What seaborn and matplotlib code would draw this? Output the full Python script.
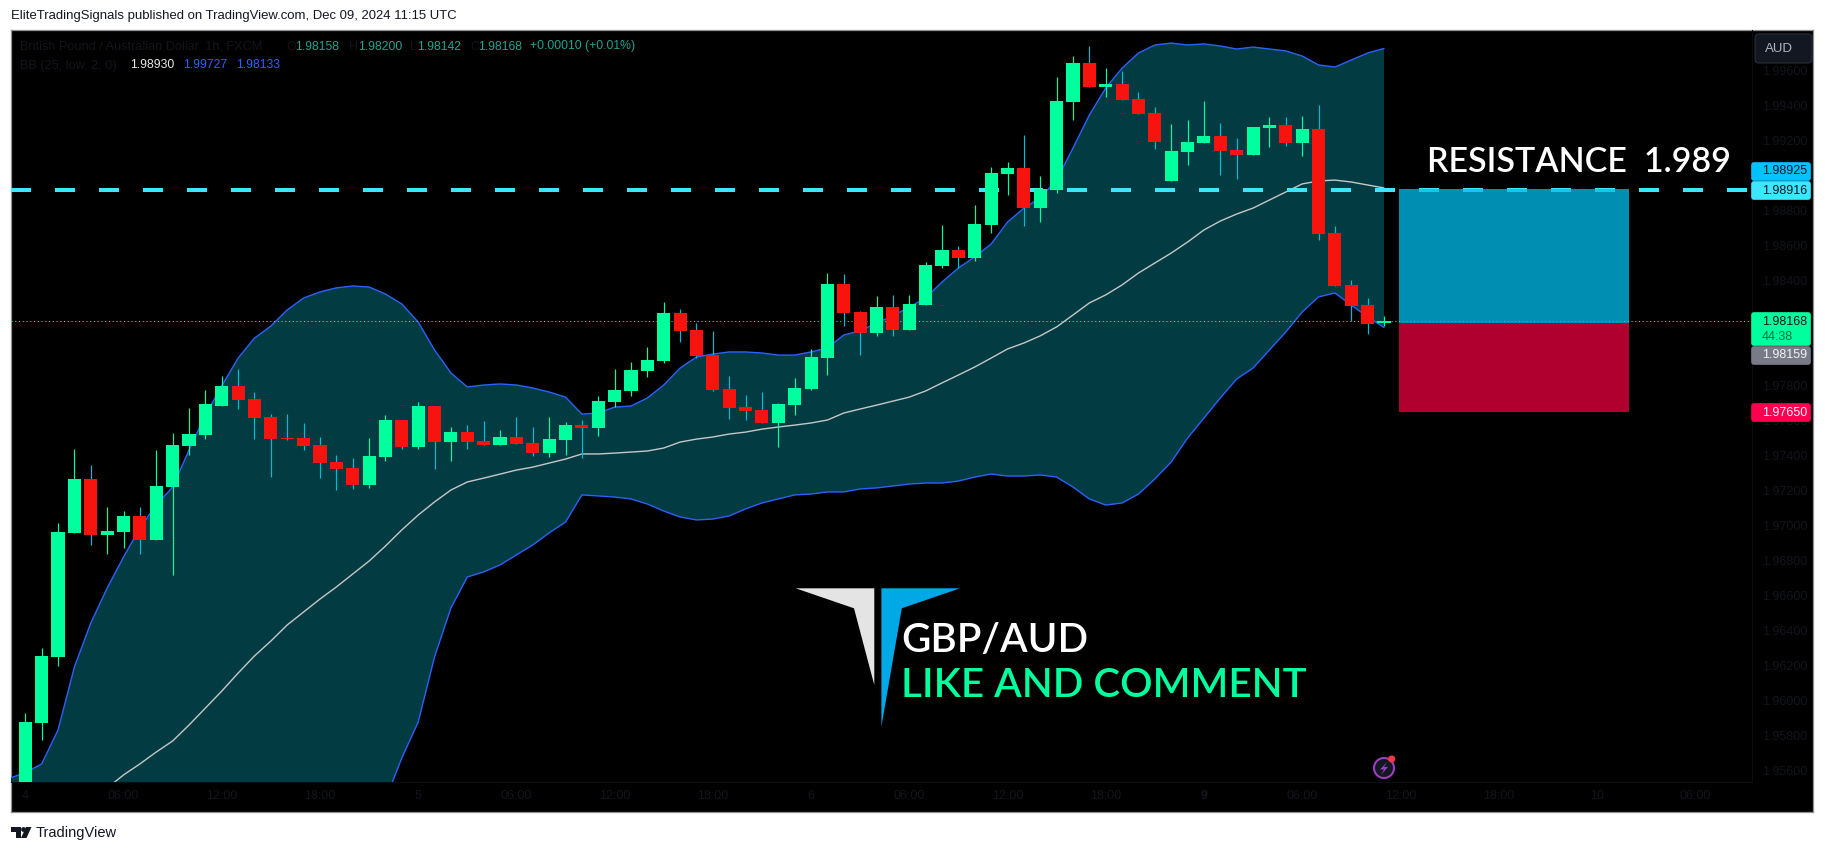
import numpy as np
import pandas as pd
import matplotlib
matplotlib.use('Agg')
import matplotlib.pyplot as plt
from matplotlib.patches import Polygon, Circle, FancyBboxPatch
import seaborn as sns

# candles, Dec 4 00:00 -> Dec 9 11:00, hourly
opens = [1.9548, 1.95874, 1.96252, 1.96960, 1.97267, 1.96949, 1.96964, 1.97056, 1.96920, 1.97221,
         1.97455, 1.97518, 1.97684, 1.97799, 1.97724, 1.97621, 1.97501, 1.97501, 1.97461, 1.97364,
         1.97330, 1.97233, 1.97392, 1.97604, 1.97450, 1.97684, 1.97478, 1.97535, 1.97484, 1.97461,
         1.97507, 1.97473, 1.97415, 1.97490, 1.97575, 1.97558, 1.97707, 1.97770, 1.97884, 1.97941,
         1.98216, 1.98119, 1.97975, 1.97781, 1.97678, 1.97661, 1.97587, 1.97689, 1.97781, 1.97958,
         1.98381, 1.98221, 1.98102, 1.98250, 1.98119, 1.98261, 1.98484, 1.98575, 1.98530, 1.98718,
         1.99011, 1.99045, 1.98815, 1.98919, 1.99421, 1.99644, 1.99507, 1.99524, 1.99438, 1.99358,
         1.98970, 1.99136, 1.99187, 1.99227, 1.99147, 1.99118, 1.99273, 1.99290, 1.99187, 1.99267,
         1.98673, 1.98376, 1.98261, 1.98158]
highs = [1.95930, 1.96302, 1.97016, 1.97438, 1.97347, 1.97107, 1.97084, 1.97107, 1.97432, 1.97531,
         1.97672, 1.97776, 1.97856, 1.97896, 1.97764, 1.97638, 1.97638, 1.97587, 1.97507, 1.97404,
         1.97387, 1.97501, 1.97632, 1.97604, 1.97707, 1.97684, 1.97564, 1.97575, 1.97598, 1.97547,
         1.97621, 1.97564, 1.97621, 1.97592, 1.97604, 1.97741, 1.97896, 1.97935, 1.98022, 1.98279,
         1.98239, 1.98159, 1.98113, 1.97856, 1.97747, 1.97764, 1.97701, 1.97844, 1.98010, 1.98444,
         1.98438, 1.98227, 1.98313, 1.98319, 1.98319, 1.98507, 1.98718, 1.98598, 1.98832, 1.99050,
         1.99079, 1.99233, 1.98999, 1.99564, 1.99684, 1.99741, 1.99615, 1.99598, 1.99478, 1.99393,
         1.99296, 1.99318, 1.99427, 1.99301, 1.99216, 1.99278, 1.99336, 1.99336, 1.99341, 1.99404,
         1.98713, 1.98404, 1.98301, 1.98200]
lows = [1.9548, 1.95775, 1.96201, 1.96960, 1.96890, 1.96839, 1.96873, 1.96839, 1.96920, 1.96716,
        1.97404, 1.97495, 1.97684, 1.97667, 1.97495, 1.97278, 1.97490, 1.97432, 1.97272, 1.97204,
        1.97210, 1.97216, 1.97370, 1.97438, 1.97438, 1.97324, 1.97370, 1.97438, 1.97461, 1.97461,
        1.97467, 1.97398, 1.97392, 1.97404, 1.97387, 1.97512, 1.97678, 1.97741, 1.97850, 1.97930,
        1.98050, 1.97958, 1.97770, 1.97610, 1.97604, 1.97587, 1.97450, 1.97632, 1.97776, 1.97861,
        1.98141, 1.97975, 1.98085, 1.98085, 1.98119, 1.98261, 1.98473, 1.98473, 1.98513, 1.98673,
        1.98890, 1.98712, 1.98735, 1.98901, 1.99318, 1.99507, 1.99450, 1.99433, 1.99353, 1.99153,
        1.98970, 1.99061, 1.99187, 1.99004, 1.98981, 1.99118, 1.99164, 1.99170, 1.99113, 1.98633,
        1.98370, 1.98170, 1.98096, 1.98142]
closes = [1.95878, 1.96256, 1.96964, 1.97267, 1.96947, 1.96970, 1.97056, 1.96920, 1.97227, 1.97461,
          1.97524, 1.97695, 1.97799, 1.97718, 1.97615, 1.97495, 1.97493, 1.97455, 1.97358, 1.97324,
          1.97233, 1.97398, 1.97604, 1.97450, 1.97684, 1.97478, 1.97535, 1.97478, 1.97461, 1.97507,
          1.97467, 1.97415, 1.97495, 1.97575, 1.97558, 1.97712, 1.97776, 1.97890, 1.97947, 1.98216,
          1.98113, 1.97970, 1.97776, 1.97672, 1.97655, 1.97587, 1.97695, 1.97787, 1.97964, 1.98381,
          1.98216, 1.98102, 1.98250, 1.98119, 1.98267, 1.98490, 1.98575, 1.98530, 1.98724, 1.99016,
          1.99045, 1.98815, 1.98925, 1.99427, 1.99644, 1.99507, 1.99524, 1.99433, 1.99353, 1.99193,
          1.99141, 1.99193, 1.99227, 1.99141, 1.99118, 1.99278, 1.99290, 1.99187, 1.99267, 1.98667,
          1.98370, 1.98256, 1.98153, 1.98168]

# bollinger, first value is the 23:00 bar just left of the first candle
bb_upper = [1.95556, 1.95589, 1.95639, 1.95833, 1.96193, 1.96444, 1.96644, 1.96821, 1.96987, 1.97118,
            1.97221, 1.97432, 1.97632, 1.97799, 1.97958, 1.98072, 1.98141, 1.98233, 1.98301, 1.98336,
            1.98359, 1.98370, 1.98364, 1.98324, 1.98267, 1.98164, 1.98004, 1.97873, 1.97793, 1.97804,
            1.97810, 1.97804, 1.97787, 1.97764, 1.97735, 1.97638, 1.97644, 1.97678, 1.97684, 1.97730,
            1.97804, 1.97901, 1.97964, 1.97981, 1.97993, 1.97993, 1.97987, 1.97975, 1.97975, 1.97993,
            1.98016, 1.98090, 1.98113, 1.98159, 1.98199, 1.98250, 1.98301, 1.98393, 1.98473, 1.98536,
            1.98610, 1.98735, 1.98815, 1.98873, 1.98975, 1.99158, 1.99347, 1.99501, 1.99615, 1.99701,
            1.99747, 1.99758, 1.99747, 1.99753, 1.99741, 1.99724, 1.99735, 1.99724, 1.99713, 1.99684,
            1.99633, 1.99621, 1.99661, 1.99701, 1.99727]
# basis is off the bottom of the pane until bar 5
bb_basis = [np.nan, np.nan, np.nan, np.nan, np.nan, np.nan, 1.95501, 1.95576, 1.95639, 1.95707,
            1.95770, 1.95861, 1.95958, 1.96055, 1.96158, 1.96256, 1.96341, 1.96433, 1.96507, 1.96581,
            1.96650, 1.96724, 1.96798, 1.96884, 1.96976, 1.97061, 1.97136, 1.97204, 1.97250, 1.97272,
            1.97295, 1.97318, 1.97335, 1.97358, 1.97381, 1.97410, 1.97410, 1.97415, 1.97421, 1.97427,
            1.97444, 1.97478, 1.97495, 1.97507, 1.97524, 1.97535, 1.97552, 1.97564, 1.97575, 1.97587,
            1.97604, 1.97644, 1.97667, 1.97689, 1.97712, 1.97735, 1.97770, 1.97816, 1.97861, 1.97907,
            1.97958, 1.98010, 1.98044, 1.98085, 1.98136, 1.98204, 1.98273, 1.98319, 1.98376, 1.98444,
            1.98501, 1.98558, 1.98621, 1.98690, 1.98741, 1.98781, 1.98815, 1.98861, 1.98907, 1.98953,
            1.98970, 1.98975, 1.98964, 1.98947, 1.98930]
# lower band: left part is below the pane, those are rough guesses
bb_lower = [1.9450, 1.9450, 1.9450, 1.9455, 1.9460, 1.9465, 1.9470, 1.9475, 1.9480, 1.9485,
            1.9490, 1.9495, 1.9500, 1.9505, 1.9510, 1.9515, 1.9520, 1.9525, 1.9530, 1.9533,
            1.9536, 1.9539, 1.9541, 1.95433, 1.95673, 1.95878, 1.96250, 1.96530, 1.96707, 1.96736,
            1.96776, 1.96833, 1.96890, 1.96959, 1.97021, 1.97176, 1.97170, 1.97164, 1.97153, 1.97124,
            1.97084, 1.97050, 1.97033, 1.97038, 1.97056, 1.97096, 1.97130, 1.97153, 1.97176, 1.97181,
            1.97193, 1.97193, 1.97210, 1.97216, 1.97227, 1.97238, 1.97244, 1.97244, 1.97255, 1.97278,
            1.97295, 1.97284, 1.97284, 1.97290, 1.97278, 1.97221, 1.97153, 1.97118, 1.97130, 1.97181,
            1.97267, 1.97364, 1.97501, 1.97615, 1.97730, 1.97838, 1.97901, 1.98004, 1.98107, 1.98221,
            1.98307, 1.98330, 1.98261, 1.98193, 1.98133]

resistance = 1.98916
last_price = 1.98168
target, entry, stop = 1.98925, 1.98159, 1.97650
box_start, box_end = 83.93, 97.97

time_ticks = [0, 6, 12, 18, 24, 30, 36, 42, 48, 54, 60, 66, 72, 78, 84, 90, 96, 102]
time_labels = ['4', '06:00', '12:00', '18:00', '5', '06:00', '12:00', '18:00', '6', '06:00',
               '12:00', '18:00', '9', '06:00', '12:00', '18:00', '10', '06:00']
# 1.990, 1.982 and 1.980 sit behind the price tags, so they are left out
price_ticks = [1.956, 1.958, 1.960, 1.962, 1.964, 1.966, 1.968, 1.970, 1.972, 1.974, 1.976,
               1.978, 1.984, 1.986, 1.988, 1.992, 1.994, 1.996]

W, H = 1825, 852
GREEN = '#00FF9D'
RED = '#F7130E'
RED_WICK = '#00BCD4'
BAND_FILL = '#033B43'
BAND_LINE = '#2962FF'
FAINT = '#13151C'
TEXT_DARK = '#131722'

sns.set_theme(style='white')
plt.rcParams['font.family'] = ['Liberation Sans', 'DejaVu Sans']

fig = plt.figure(figsize=(W / 100, H / 100), dpi=100, facecolor='white')

# black pane with both scales, then the chart on top
back = fig.add_axes([11 / W, 1 - 812 / H, (1813 - 11) / W, (812 - 30) / H], zorder=0)
back.set_facecolor('black')
back.set_xticks([])
back.set_yticks([])
for s in back.spines.values():
    s.set_color('#8E9096')
    s.set_linewidth(0.9)

ax = fig.add_axes([11 / W, 1 - 782 / H, (1752 - 11) / W, (782 - 30) / H], zorder=1)
ax.patch.set_alpha(0)

idx = np.arange(len(opens))
band_idx = np.arange(-1, len(opens))
bands = pd.DataFrame({'bar': band_idx, 'upper': bb_upper, 'basis': bb_basis, 'lower': bb_lower})

ax.fill_between(bands.bar, bands.lower, bands.upper, color=BAND_FILL, lw=0, zorder=1)
sns.lineplot(data=bands, x='bar', y='upper', color=BAND_LINE, lw=1.0, ax=ax, zorder=2, errorbar=None)
sns.lineplot(data=bands, x='bar', y='lower', color=BAND_LINE, lw=1.0, ax=ax, zorder=2, errorbar=None)
sns.lineplot(data=bands, x='bar', y='basis', color='#C4C8C8', lw=1.0, ax=ax, zorder=2, errorbar=None)

ax.axhline(last_price, color=GREEN, lw=0.75, linestyle=(0, (1, 2.6)), zorder=3)
ax.axhline(resistance, color='#3BE6FF', lw=2.88, linestyle=(0, (5, 6)), zorder=3)

# position tool
ax.bar(box_start, target - entry, width=box_end - box_start, bottom=entry, align='edge',
       color='#00C0F1', alpha=0.75, lw=0, zorder=4)
ax.bar(box_start, entry - stop, width=box_end - box_start, bottom=stop, align='edge',
       color='#EB003F', alpha=0.75, lw=0, zorder=4)

o = np.array(opens)
c = np.array(closes)
up = c >= o
ax.vlines(idx, lows, highs, colors=[GREEN if u else RED_WICK for u in up], lw=0.85, zorder=5)
ax.bar(idx, np.abs(c - o), width=0.8, bottom=np.minimum(o, c),
       color=[GREEN if u else RED for u in up], lw=0, zorder=6)

ax.set_xlim((11 - 25.3) / 16.37, (1752 - 25.3) / 16.37)
ax.set_ylim(2.00004 - 782 * 0.00005714, 2.00004 - 30 * 0.00005714)
ax.set_xlabel('')
ax.set_ylabel('')
ax.yaxis.tick_right()
ax.set_yticks(price_ticks)
ax.set_yticklabels(['%.5f' % p for p in price_ticks], color=FAINT, fontsize=9)
ax.set_xticks(time_ticks)
ax.set_xticklabels(time_labels, color=FAINT, fontsize=9)
ax.xaxis.get_ticklabels()[12].set_fontweight('bold')
ax.tick_params(axis='y', length=0, pad=7.5)
ax.tick_params(axis='x', length=0, pad=6)
for s in ['top', 'left']:
    ax.spines[s].set_visible(False)
for s in ['right', 'bottom']:
    ax.spines[s].set_color('#0B0D12')
    ax.spines[s].set_linewidth(0.8)

# overlay in pixel coordinates for tags, header text, drawings
ov = fig.add_axes([0, 0, 1, 1], zorder=2)
ov.set_xlim(0, W)
ov.set_ylim(H, 0)
ov.axis('off')


def price_tag(top, bottom, label, bg, fg, extra=None, extra_fg=None):
    ov.add_patch(FancyBboxPatch((1752, top + 1), 58, bottom - top - 2, boxstyle='round,pad=0,rounding_size=2',
                                mutation_aspect=1, fc=bg, ec=bg, lw=1.2))
    if extra:
        ov.text(1762, top + 10, label, color=fg, fontsize=9, va='center', ha='left')
        ov.text(1762, top + 25, extra, color=extra_fg, fontsize=9, va='center', ha='left')
    else:
        ov.text(1762, (top + bottom) / 2, label, color=fg, fontsize=9, va='center', ha='left')


price_tag(162, 181, '1.98925', '#00C2FF', TEXT_DARK)
price_tag(181, 200, '1.98916', '#3BE6FF', TEXT_DARK)
price_tag(312, 346, '1.98168', GREEN, TEXT_DARK, '44:38', '#0B6B47')
price_tag(346, 365, '1.98159', '#787B86', '#F0F3FA')
price_tag(403, 422, '1.97650', '#FF0050', '#F0F3FA')

ov.add_patch(FancyBboxPatch((1755, 34), 57, 29, boxstyle='round,pad=0,rounding_size=4',
                            fc=TEXT_DARK, ec='#2A2E39', lw=0.8))
ov.text(1765, 48.5, 'AUD', color='#B2B5BE', fontsize=9.5, va='center', ha='left')

ov.text(11, 16, 'EliteTradingSignals published on TradingView.com, Dec 09, 2024 11:15 UTC',
        color=TEXT_DARK, fontsize=9.45, va='center', ha='left')

ov.text(20, 46.5, 'British Pound / Australian Dollar, 1h, FXCM', color=FAINT, fontsize=9.2, va='center')
for xp, s, col in [(286, 'O', FAINT), (295, '1.98158', '#1FA48F'), (349, 'H', FAINT), (358, '1.98200', '#1FA48F'),
                   (410, 'L', FAINT), (417, '1.98142', '#1FA48F'), (470, 'C', FAINT), (478, '1.98168', '#1FA48F'),
                   (530, '+0.00010 (+0.01%)', '#1FA48F')]:
    ov.text(xp, 46.5, s, color=col, fontsize=8.8, va='center')
ov.text(20, 65.5, 'BB (25, low, 2, 0)', color=FAINT, fontsize=9.2, va='center')
for xp, s, col in [(130.6, '1.98930', '#E8E8E8'), (183, '1.99727', BAND_LINE), (236, '1.98133', BAND_LINE)]:
    ov.text(xp, 65.5, s, color=col, fontsize=8.8, va='center')

ov.text(1427, 172, 'RESISTANCE  1.989', color='white', fontsize=24.5, family='Lato', weight='semibold',
        va='baseline', ha='left')
ov.text(901, 651.7, 'GBP/AUD', color='white', fontsize=29, family='Lato', weight='semibold', va='baseline', ha='left')
ov.text(901, 696.7, 'LIKE AND COMMENT', color=GREEN, fontsize=29, family='Lato', weight='semibold',
        va='baseline', ha='left')

ov.add_patch(Polygon([(795.7, 588.3), (874.3, 588.3), (874.3, 685), (854, 608.3)], fc='#E4E4E4', ec='none'))
ov.add_patch(Polygon([(881.4, 588.3), (960, 588.3), (901.8, 608.3), (881.4, 726.7)], fc='#00A8E6', ec='none'))

# lightning badge
ov.add_patch(Circle((1384, 768), 10, fc=TEXT_DARK, ec='#9C3FBF', lw=1.5))
ov.add_patch(Polygon([(1387, 762), (1380, 769.5), (1384, 769.5), (1381, 775), (1388, 767), (1384, 767)],
                     fc='#9C3FBF', ec='none'))
ov.add_patch(Circle((1391.7, 759), 3.6, fc='#F23645', ec='none'))

# footer logo
ov.add_patch(Polygon([(11, 827), (21, 827), (21, 838), (16, 838), (16, 832), (11, 832)], fc=TEXT_DARK, ec='none'))
ov.add_patch(Circle((23.5, 829.5), 2.4, fc=TEXT_DARK, ec='none'))
ov.add_patch(Polygon([(26, 827), (31.5, 827), (26.5, 838), (21, 838)], fc=TEXT_DARK, ec='none'))
ov.text(36, 833, 'TradingView', color=TEXT_DARK, fontsize=10.5, va='center', ha='left')

fig.savefig('out.png', dpi=100)
